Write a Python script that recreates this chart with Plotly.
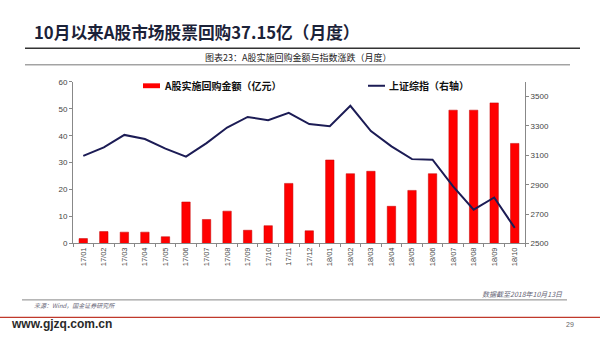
import plotly.graph_objects as go

# Monthly buyback amount (100m CNY) and SSE Composite index level
months = ["17/01", "17/02", "17/03", "17/04", "17/05", "17/06", "17/07", "17/08",
          "17/09", "17/10", "17/11", "17/12", "18/01", "18/02", "18/03", "18/04",
          "18/05", "18/06", "18/07", "18/08", "18/09", "18/10"]
buyback = [1.8, 4.4, 4.2, 4.2, 2.5, 15.4, 8.9, 12.0, 4.9, 6.6, 22.3, 4.7,
           31.0, 25.9, 26.8, 13.8, 19.7, 25.9, 49.5, 49.5, 52.2, 37.15]
sse_index = [3096, 3154, 3239, 3211, 3146, 3091, 3183, 3289, 3361, 3339, 3389, 3313,
             3298, 3437, 3265, 3161, 3074, 3070, 2889, 2730, 2813, 2606]

left_ticks = [0, 10, 20, 30, 40, 50, 60]
right_ticks = [2500, 2700, 2900, 3100, 3300, 3500]

bar_name = "A股实施回购金额（亿元）"
line_name = "上证综指（右轴）"

W, H = 600, 338
CJK = "Noto Sans CJK SC"
BAR_RED = "#ff0000"
NAVY = "#1c1c55"


def px(x):
    return x / W


def py(y):
    return 1 - y / H


fig = go.Figure()
fig.add_trace(go.Bar(x=months, y=buyback, name=bar_name, marker=dict(color=BAR_RED, line=dict(color="#c00000", width=0.5)),
                     yaxis="y", showlegend=False))
fig.add_trace(go.Scatter(x=months, y=sse_index, name=line_name, mode="lines",
                         line=dict(color=NAVY, width=2), yaxis="y2", showlegend=False))

axis_font = dict(family="Arial, Liberation Sans", size=8, color="#444")

fig.update_layout(
    width=W, height=H,
    margin=dict(l=0, r=0, t=0, b=0),
    paper_bgcolor="white", plot_bgcolor="white",
    bargap=0.59,
    xaxis=dict(domain=[px(73), px(525)], type="category", showgrid=False,
               showline=True, linecolor="#888", linewidth=1,
               ticks="outside", ticklen=3, tickcolor="#888", tickson="boundaries",
               tickangle=-90, tickfont=dict(family="Arial, Liberation Sans", size=7.5, color="#444")),
    yaxis=dict(domain=[py(246), py(80)], range=[0, 60], tickvals=left_ticks,
               showgrid=False, zeroline=False, showline=True, linecolor="#888", linewidth=1,
               ticks="outside", ticklen=3, tickcolor="#888", tickfont=axis_font),
    yaxis2=dict(domain=[py(246), py(80)], range=[2500, 3600], tickvals=right_ticks,
                overlaying="y", side="right", anchor="x",
                showgrid=False, zeroline=False, showline=True, linecolor="#888", linewidth=1,
                ticks="outside", ticklen=3, tickcolor="#888", tickfont=axis_font),
)

shapes = [
    # rule under the headline
    dict(type="line", xref="paper", yref="paper", x0=px(25), x1=px(580), y0=py(45.5), y1=py(45.5),
         line=dict(color="#333", width=1.6)),
    # rule under the chart caption
    dict(type="line", xref="paper", yref="paper", x0=px(25), x1=px(570), y0=py(62.5), y1=py(62.5),
         line=dict(color="#777", width=1)),
    # legend swatches
    dict(type="rect", xref="paper", yref="paper", x0=px(143), x1=px(160), y0=py(86.5), y1=py(81.5),
         fillcolor=BAR_RED, line=dict(width=0)),
    dict(type="line", xref="paper", yref="paper", x0=px(368), x1=px(385), y0=py(84), y1=py(84),
         line=dict(color=NAVY, width=2)),
    # footer rules
    dict(type="line", xref="paper", yref="paper", x0=px(22), x1=px(567), y0=py(304), y1=py(304),
         line=dict(color="#888", width=1)),
    dict(type="line", xref="paper", yref="paper", x0=0, x1=1, y0=py(322), y1=py(322),
         line=dict(color="#c0392b", width=1.2)),
]

annotations = [
    dict(text="<b>10月以来A股市场股票回购37.15亿（月度）</b>", x=px(32), y=py(29),
         xanchor="left", yanchor="middle", font=dict(family=CJK, size=16.7, color="#1b2238")),
    dict(text="图表23：A股实施回购金额与指数涨跌（月度）", x=px(298), y=py(55),
         xanchor="center", yanchor="middle", font=dict(family=CJK, size=9, color="#222")),
    dict(text="<b>" + bar_name + "</b>", x=px(162), y=py(84), xanchor="left", yanchor="middle",
         font=dict(family=CJK, size=10, color="#111")),
    dict(text="<b>" + line_name + "</b>", x=px(387), y=py(84), xanchor="left", yanchor="middle",
         font=dict(family=CJK, size=10, color="#111")),
    dict(text="<i>数据截至2018年10月13日</i>", x=px(565), y=py(298), xanchor="right", yanchor="middle",
         font=dict(family=CJK, size=7, color="#667")),
    dict(text="<i>来源：Wind，国金证券研究所</i>", x=px(32), y=py(310), xanchor="left", yanchor="middle",
         font=dict(family=CJK, size=6, color="#667")),
    dict(text="<b>www.gjzq.com.cn</b>", x=px(9), y=py(329), xanchor="left", yanchor="middle",
         font=dict(family="Arial, Liberation Sans", size=12, color="#2a2a2a")),
    dict(text="29", x=px(570), y=py(329), xanchor="center", yanchor="middle",
         font=dict(family="Arial, Liberation Sans", size=7, color="#666")),
]
for a in annotations:
    a.update(xref="paper", yref="paper", showarrow=False)

fig.update_layout(shapes=shapes, annotations=annotations)
fig.write_html("out.html")
